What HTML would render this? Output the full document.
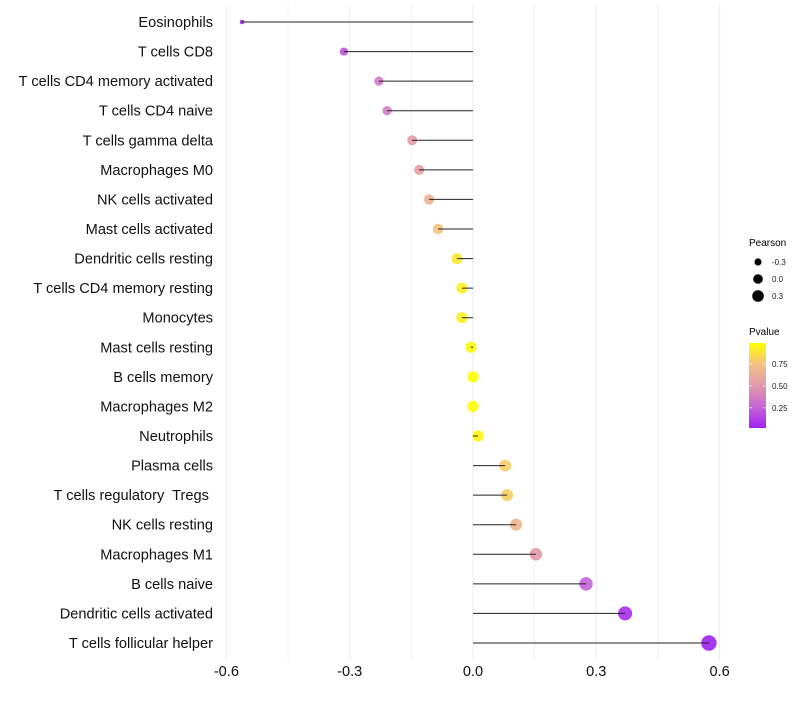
<!DOCTYPE html>
<html><head><meta charset="utf-8"><style>
body{margin:0;background:#fff;font-family:"Liberation Sans",sans-serif;}
svg text{font-family:"Liberation Sans",sans-serif;white-space:pre;}
</style></head><body>
<svg id="chart" width="800" height="700" xmlns="http://www.w3.org/2000/svg">
<g id="grid"></g>
<g id="marks"></g>
<g id="ylabels"></g>
<g id="xlabels"></g>
<g id="legend">
<text x="749" y="246" font-size="10" fill="#000">Pearson</text>
<g id="sizeleg"></g>
<text x="749" y="335" font-size="10" fill="#000">Pvalue</text>
<defs><linearGradient id="pg" x1="0" y1="1" x2="0" y2="0">
<stop offset="0" stop-color="#a020f0"/><stop offset="0.25" stop-color="#c766d6"/><stop offset="0.5" stop-color="#e29aaa"/><stop offset="0.75" stop-color="#f5c182"/><stop offset="1" stop-color="#ffff00"/></linearGradient></defs>
<rect x="749" y="343" width="17" height="85" fill="url(#pg)"/>
<g id="cbticks"></g>
</g>
</svg>
<script>
const categories=["Eosinophils","T cells CD8","T cells CD4 memory activated","T cells CD4 naive","T cells gamma delta","Macrophages M0","NK cells activated","Mast cells activated","Dendritic cells resting","T cells CD4 memory resting","Monocytes","Mast cells resting","B cells memory","Macrophages M2","Neutrophils","Plasma cells","T cells regulatory  Tregs ","NK cells resting","Macrophages M1","B cells naive","Dendritic cells activated","T cells follicular helper"];
const pearson=[-0.562,-0.314,-0.229,-0.209,-0.148,-0.131,-0.107,-0.085,-0.039,-0.027,-0.027,-0.005,0.0,0.0,0.012,0.078,0.083,0.105,0.153,0.275,0.37,0.574];
const pvalue=[0.02,0.2,0.35,0.38,0.5,0.53,0.65,0.75,0.9,0.93,0.93,0.97,1.0,1.0,0.96,0.8,0.8,0.68,0.5,0.25,0.06,0.02];
const xTicks=[-0.6,-0.3,0.0,0.3,0.6];
const xTickLabels=["-0.6","-0.3","0.0","0.3","0.6"];
const sizeLegendValues=[-0.3,0.0,0.3];
const sizeLegendLabels=["-0.3","0.0","0.3"];
const cbValues=[0.25,0.5,0.75];
const cbLabels=["0.25","0.50","0.75"];

const NS="http://www.w3.org/2000/svg";
const x=v=>473+v*411;
const y=i=>22+i*(621/(categories.length-1));
const pMinR=Math.min(...pearson);
const r=v=>Math.sqrt(5+48*Math.max(0,v-pMinR));
const pmin=0.02,pmax=0.99;
const stops=[[160,32,240],[199,102,214],[226,154,170],[245,193,130],[255,255,0]];
function col(p){let t=Math.min(1,Math.max(0,(p-pmin)/(pmax-pmin)))*4;
 const k=Math.min(3,Math.floor(t)),f=t-k,a=stops[k],b=stops[k+1];
 return `rgb(${Math.round(a[0]+(b[0]-a[0])*f)},${Math.round(a[1]+(b[1]-a[1])*f)},${Math.round(a[2]+(b[2]-a[2])*f)})`;}
function mk(tag,attrs,parent){const e=document.createElementNS(NS,tag);for(const k in attrs)e.setAttribute(k,attrs[k]);parent.appendChild(e);return e;}
const grid=document.getElementById('grid');
for(let v=-0.6;v<=0.61;v+=0.15){
 const g=mk('line',{x1:x(v),x2:x(v),y1:5,y2:660,stroke:'#ebebeb','stroke-width':Math.abs(Math.round(v/0.15))%2===0?1:0.6},grid);
 
 
}
const marks=document.getElementById('marks'),yl=document.getElementById('ylabels');
categories.forEach((c,i)=>{
 const d=mk('circle',{cx:x(pearson[i]),cy:y(i),r:r(pearson[i]),fill:col(pvalue[i]),'fill-opacity':0.9},marks);
 
 
 const l=mk('line',{x1:x(0),x2:x(pearson[i]),y1:y(i),y2:y(i),stroke:'#222','stroke-width':1},marks);
 
 
 const t=mk('text',{x:213,y:y(i)+5,'text-anchor':'end','font-size':14.6,fill:'#111'},yl);
 t.textContent=c;
 
 
});
const xl=document.getElementById('xlabels');
xTicks.forEach((v,i)=>{
 const t=mk('text',{x:x(v),y:676,'text-anchor':'middle','font-size':14.6,fill:'#111'},xl);
 t.textContent=xTickLabels[i];
 
 
});
const sl=document.getElementById('sizeleg');
sizeLegendValues.forEach((v,i)=>{
 const cy=262+i*17;
 const c=mk('circle',{cx:758,cy:cy,r:r(v)*0.85,fill:'#000'},sl);
 
 
 const t=mk('text',{x:772,y:cy+3,'font-size':8,fill:'#222'},sl);
 t.textContent=sizeLegendLabels[i];
 
 
});
const cb=document.getElementById('cbticks');
cbValues.forEach((v,i)=>{
 const yy=428-(v-pmin)/(pmax-pmin)*85;
 const a=mk('line',{x1:749,x2:752,y1:yy,y2:yy,stroke:'#fff','stroke-width':0.6},cb);
 
 
 const b=mk('line',{x1:763,x2:766,y1:yy,y2:yy,stroke:'#fff','stroke-width':0.6},cb);
 
 
 const t=mk('text',{x:772,y:yy+3,'font-size':8,fill:'#222'},cb);
 t.textContent=cbLabels[i];
 
 
});
</script>
</body></html>
